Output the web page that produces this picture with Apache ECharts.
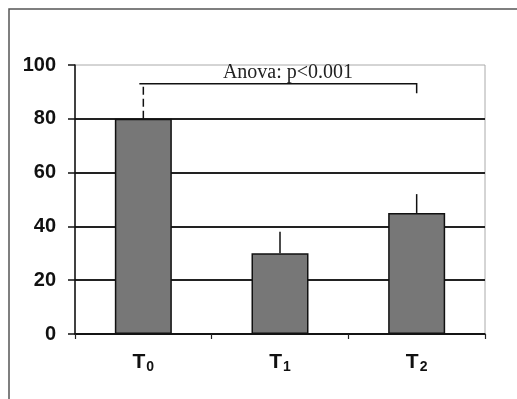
<!DOCTYPE html>
<html><head><meta charset="utf-8">
<script src="https://cdn.jsdelivr.net/npm/echarts@6/dist/echarts.min.js"></script>
<style>html,body{margin:0;padding:0;background:#fff}#c{width:517px;height:399px}</style>
</head><body><div id="c"></div>
<script>
var categories = ['T0', 'T1', 'T2'];
var means = [80, 30, 45];
var upper = [93, 38, 52];
var yTicks = [0, 20, 40, 60, 80, 100];
var bracketY = 93;
var bracketRightEnd = 89.5;
var annotation = 'Anova: p<0.001';

var chart = echarts.init(document.getElementById('c'), null, {renderer: 'canvas'});
var errData = categories.map(function (c, i) { return [i, means[i], upper[i]]; });

chart.setOption({
  animation: false,
  graphic: [{
    type: 'rect', shape: {x: 9, y: 9, width: 620, height: 500},
    style: {fill: 'none', stroke: '#555', lineWidth: 1.5}, z: 0
  }],
  grid: {left: 75, right: 32, top: 65, bottom: 65, show: true, borderColor: '#aaa', borderWidth: 1, backgroundColor: 'transparent'},
  xAxis: {
    type: 'category', data: categories,
    axisLine: {lineStyle: {color: '#111', width: 1.5}},
    axisTick: {show: true, length: 5, lineStyle: {color: '#222', width: 1.2}},
    axisLabel: {
      margin: 16,
      formatter: function (v) { return '{t|T}{s|' + v.slice(1) + '}'; },
      rich: {
        t: {fontFamily: 'Liberation Sans, Arial', fontWeight: 'bold', fontSize: 21, color: '#111'},
        s: {fontFamily: 'Liberation Sans, Arial', fontWeight: 'bold', fontSize: 14, color: '#111', verticalAlign: 'bottom', padding: [10, 0, 0, 1]}
      }
    }
  },
  yAxis: {
    type: 'value', min: yTicks[0], max: yTicks[yTicks.length - 1], interval: 20,
    axisLine: {show: true, lineStyle: {color: '#111', width: 1.5}},
    axisTick: {show: true, length: 7, lineStyle: {color: '#111', width: 1.5}},
    axisLabel: {margin: 19, fontFamily: 'Liberation Sans, Arial', fontWeight: 'bold', fontSize: 20, color: '#111'},
    splitLine: {show: true, lineStyle: {color: ['#222', '#222', '#222', '#222', '#222', 'rgba(0,0,0,0)'], width: 1.8}}
  },
  series: [{
    type: 'bar', data: means, barWidth: 57,
    itemStyle: {color: '#777', borderColor: '#111', borderWidth: 1.5},
    z: 2
  }, {
    type: 'custom', data: errData, z: 3,
    renderItem: function (params, api) {
      var i = api.value(0);
      var p0 = api.coord([i, api.value(1)]);
      var p1 = api.coord([i, api.value(2)]);
      return {
        type: 'line', shape: {x1: p0[0], y1: p0[1], x2: p1[0], y2: p1[1]},
        style: {stroke: '#111', lineWidth: 1.5, lineDash: i === 0 ? [8, 4] : null}
      };
    }
  }, {
    type: 'custom', data: [[0, 2, bracketY, bracketRightEnd]], z: 4,
    renderItem: function (params, api) {
      var a = api.coord([api.value(0), api.value(2)]);
      var b = api.coord([api.value(1), api.value(2)]);
      var c = api.coord([api.value(1), api.value(3)]);
      a[0] -= 4;
      return {
        type: 'group', children: [{
          type: 'polyline', shape: {points: [a, b, c]},
          style: {stroke: '#111', lineWidth: 1.5, fill: 'none'}
        }, {
          type: 'text', x: (a[0] + b[0]) / 2 + 10, y: a[1] - 11,
          style: {text: annotation, fontFamily: 'Liberation Serif, Times New Roman', fontSize: 20, fill: '#222', align: 'center', verticalAlign: 'middle'}
        }]
      };
    }
  }]
});
</script></body></html>
